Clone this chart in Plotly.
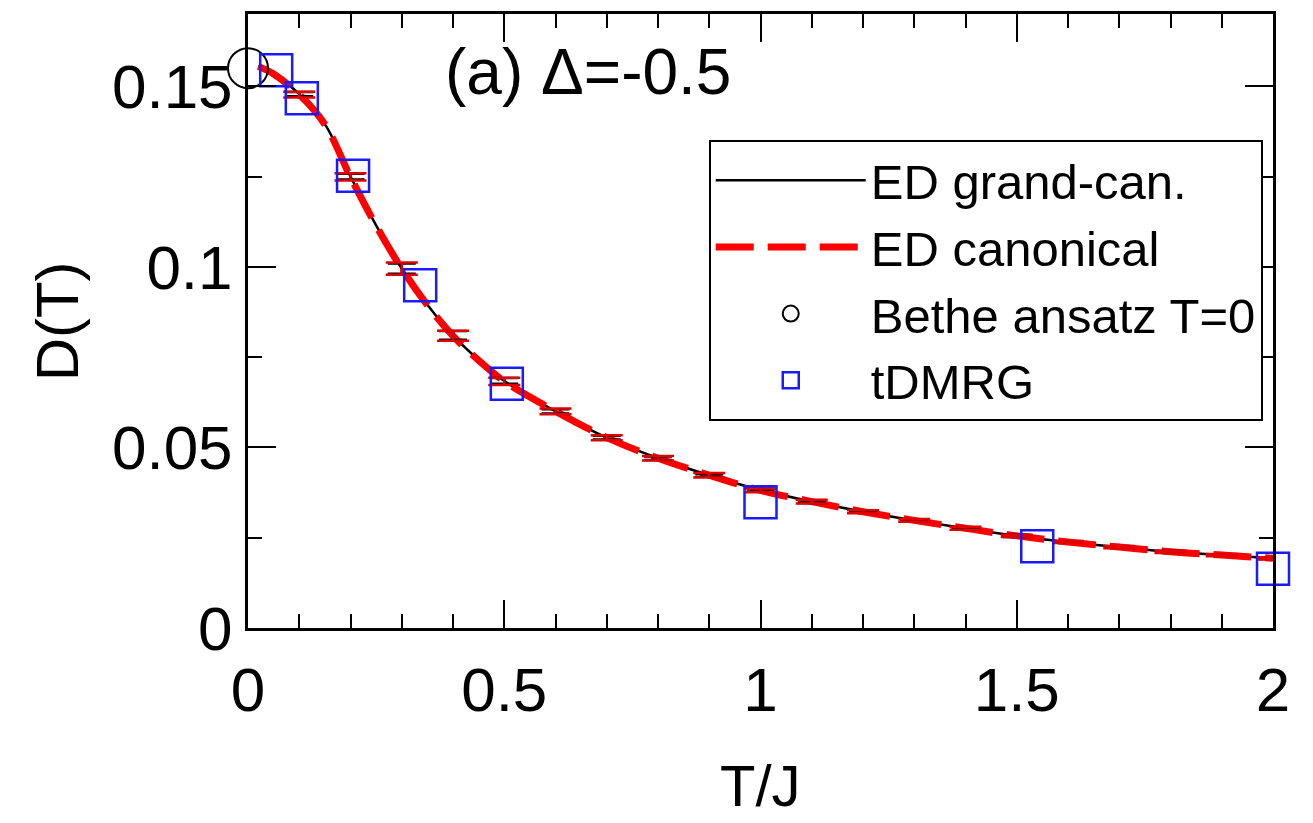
import plotly.graph_objects as go

# Temperature grid (T/J) for the exact-diagonalization curves
T_ed = [0.02, 0.05, 0.1, 0.15, 0.2, 0.25, 0.3, 0.35, 0.4, 0.45, 0.5, 0.6, 0.7, 0.8, 0.9,
        1.0, 1.1, 1.2, 1.3, 1.4, 1.5, 1.6, 1.7, 1.8, 1.9, 2.0]
# Drude weight, grand-canonical ED
D_grand = [0.1556, 0.1535, 0.1478, 0.1395, 0.1250, 0.1115, 0.0995, 0.0895, 0.0810, 0.0742,
           0.0684, 0.0600, 0.0527, 0.0470, 0.0423, 0.0382, 0.0350, 0.0322, 0.0298, 0.0276,
           0.0255, 0.0238, 0.0224, 0.0211, 0.0202, 0.0193]
# Drude weight, canonical ED
D_canon = [0.1555, 0.1534, 0.1477, 0.1394, 0.1249, 0.1114, 0.0995, 0.0894, 0.0809, 0.0741,
           0.0683, 0.0600, 0.0527, 0.0470, 0.0423, 0.0381, 0.0350, 0.0322, 0.0298, 0.0276,
           0.0255, 0.0238, 0.0224, 0.0211, 0.0202, 0.0193]
# Statistical error of the ED averages (None: no bar at that temperature)
E_canon = [None, None, 0.0008, None, 0.0010, None, 0.0017, None, 0.0014, None,
           0.0010, 0.0008, 0.0007, 0.0006, 0.0006, 0.0005, 0.0005, 0.0004, 0.0004, 0.0004,
           0.0003, 0.0003, 0.0003, 0.0003, 0.0003, 0.0003]
E_grand = [None, None, 0.0006, None, 0.0008, None, 0.0014, None, 0.0012, None,
           0.0008, 0.0006, 0.0005, 0.0005, 0.0004, 0.0004, 0.0004, 0.0003, 0.0003, 0.0003,
           0.0003, 0.0002, 0.0002, 0.0002, 0.0002, 0.0002]

# Bethe ansatz zero-temperature value
T_bethe = [0.0]
D_bethe = [0.155]

# tDMRG data
T_dmrg = [0.055, 0.105, 0.205, 0.336, 0.505, 1.0, 1.54, 2.0]
D_dmrg = [0.1544, 0.1467, 0.1252, 0.0949, 0.0676, 0.0348, 0.0226, 0.0164]

FONT = "Liberation Sans, Arial, Helvetica, sans-serif"


def with_errors(t, d, e):
    """Keep only the temperatures that carry an error estimate."""
    keep = [i for i, v in enumerate(e) if v is not None]
    return [t[i] for i in keep], [d[i] for i in keep], [e[i] for i in keep]


fig = go.Figure()

fig.add_trace(go.Scatter(
    x=T_ed, y=D_grand, mode="lines", name="ED grand-can.",
    line=dict(color="black", width=2.5, shape="spline"),
))
fig.add_trace(go.Scatter(
    x=T_ed, y=D_canon, mode="lines", name="ED canonical",
    line=dict(color="#ff0000", width=7, shape="spline", dash="38px,14px"),
))

# error bars of both ED data sets
for d_vals, e_vals, col, w in ((D_grand, E_grand, "black", 14), (D_canon, E_canon, "#e00000", 16)):
    tx, dy, ey = with_errors(T_ed, d_vals, e_vals)
    fig.add_trace(go.Scatter(
        x=tx, y=dy, mode="markers", showlegend=False, hoverinfo="skip",
        marker=dict(size=1, opacity=0),
        error_y=dict(type="data", array=ey, color=col, thickness=2.5, width=w),
    ))

fig.add_trace(go.Scatter(
    x=T_bethe, y=D_bethe, mode="markers", name="Bethe ansatz T=0",
    marker=dict(symbol="circle-open", size=40, color="black", line=dict(width=2)),
    cliponaxis=False,
))
fig.add_trace(go.Scatter(
    x=T_dmrg, y=D_dmrg, mode="markers", name="tDMRG",
    marker=dict(symbol="square-open", size=32, color="#1a1aff", line=dict(width=2.5)),
    cliponaxis=False,
))

axis_common = dict(
    showline=True, linecolor="black", linewidth=3, mirror="allticks",
    ticks="inside", ticklen=28, tickwidth=2, tickcolor="black",
    showgrid=False, zeroline=False,
    tickfont=dict(family=FONT, size=62, color="black"),
)

fig.update_xaxes(
    range=[0, 2], tickmode="array", tickvals=[0, 0.5, 1, 1.5, 2],
    ticktext=["0", "0.5", "1", "1.5", "2"], ticklabelstandoff=6,
    minor=dict(dtick=0.1, ticks="inside", ticklen=14, tickwidth=2, tickcolor="black"),
    **axis_common,
)
fig.update_yaxes(
    range=[0, 0.17], tickmode="array", tickvals=[0, 0.05, 0.1, 0.15],
    ticktext=["0", "0.05", "0.1", "0.15"],
    minor=dict(dtick=0.025, ticks="inside", ticklen=14, tickwidth=2, tickcolor="black"),
    **axis_common,
)

fig.update_layout(
    width=1313, height=823,
    margin=dict(l=248, r=40, t=11, b=195),
    paper_bgcolor="white", plot_bgcolor="white",
    font=dict(family=FONT, color="black"),
    showlegend=True,
    legend=dict(
        x=0.99, y=0.795, xanchor="right", yanchor="top",
        bgcolor="white", bordercolor="black", borderwidth=2,
        font=dict(family=FONT, size=49, color="black"),
        itemwidth=150, tracegroupgap=0,
    ),
    annotations=[
        dict(text="(a) Δ=-0.5", xref="paper", yref="paper", x=0.19, y=0.905,
             xanchor="left", yanchor="middle", showarrow=False,
             font=dict(family=FONT, size=64, color="black")),
        dict(text="T/J", xref="paper", yref="paper", x=0.5, y=-0.256,
             xanchor="center", yanchor="middle", showarrow=False,
             font=dict(family=FONT, size=58, color="black")),
        dict(text="D(T)", xref="paper", yref="paper", x=-0.186, y=0.5,
             xanchor="center", yanchor="middle", showarrow=False, textangle=-90,
             font=dict(family=FONT, size=60, color="black")),
    ],
)

fig.write_html("out.html")
